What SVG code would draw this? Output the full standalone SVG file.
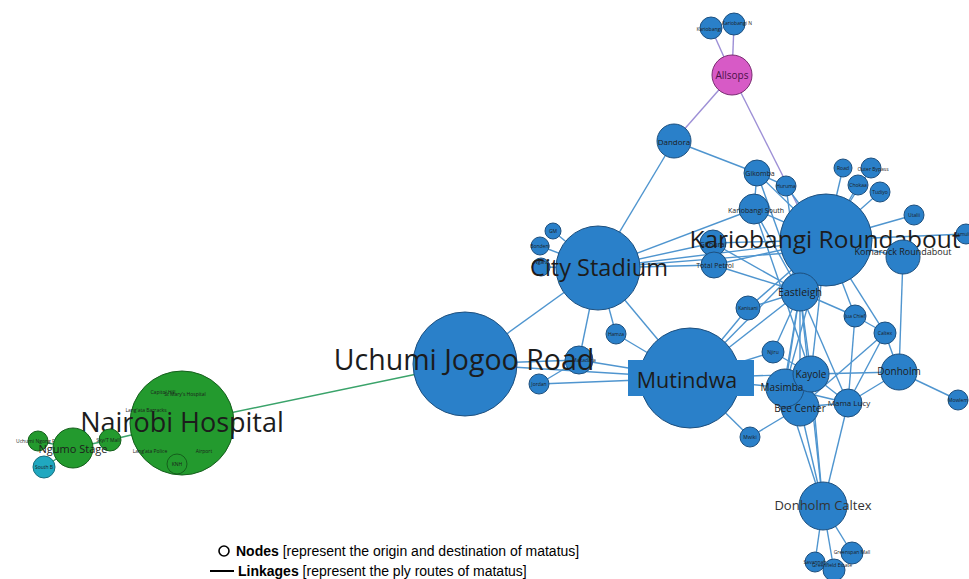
<svg xmlns="http://www.w3.org/2000/svg" width="969" height="579" viewBox="0 0 969 579">
<style>
  .e { stroke: #4f95cf; stroke-width: 1.4; fill: none; }
  .p { stroke: #9d8fd6; stroke-width: 1.4; fill: none; }
  .g { stroke: #3aa36a; stroke-width: 1.4; fill: none; }
  .n { fill: #2a80c9; stroke: #1d4f7e; stroke-width: 1; }
  .gr { fill: #239a2e; stroke: #155f1c; stroke-width: 1; }
  .tl { fill: #20a8c0; stroke: #176e7e; stroke-width: 1; }
  .mg { fill: #d75ac6; stroke: #7a2d72; stroke-width: 1; }
  text { font-family: "Open Sans", "DejaVu Sans", sans-serif; fill: #1c1c1c; text-anchor: middle; dominant-baseline: central; }
  .xs { font-size: 5px; }
  .s { font-size: 7px; }
  .m { font-size: 10px; }
  .l { font-size: 13px; }
  .xl { font-size: 23.5px; }
  .xxl { font-size: 27px; }
  .lg { font-family: "Liberation Sans", Arial, sans-serif; font-size: 14px; text-anchor: start; fill: #000; }
</style>
<rect width="969" height="579" fill="#ffffff"/>

<g id="connectors">
  <!-- Allsops links -->
  <line class="p" x1="732" y1="75" x2="711" y2="28"/>
  <line class="p" x1="732" y1="75" x2="734" y2="24"/>
  <line class="p" x1="732" y1="75" x2="674" y2="141"/>
  <line class="p" x1="732" y1="75" x2="800" y2="210"/>
  <!-- Dandora -->
  <line class="e" x1="674" y1="141" x2="598" y2="268"/>
  <line class="e" x1="674" y1="141" x2="757" y2="173"/>
  <!-- Gikomba / Huruma / Kariobangi South -->
  <line class="e" x1="757" y1="173" x2="786" y2="186"/>
  <line class="e" x1="757" y1="173" x2="826" y2="240"/>
  <line class="e" x1="757" y1="173" x2="800" y2="292"/>
  <line class="e" x1="757" y1="173" x2="754" y2="209"/>
  <line class="e" x1="786" y1="186" x2="826" y2="240"/>
  <line class="e" x1="786" y1="186" x2="800" y2="292"/>
  <line class="e" x1="754" y1="209" x2="598" y2="268"/>
  <line class="e" x1="754" y1="209" x2="826" y2="240"/>
  <line class="e" x1="754" y1="209" x2="800" y2="292"/>
  <line class="e" x1="754" y1="209" x2="811" y2="374"/>
  <!-- City Stadium -->
  <line class="e" x1="598" y1="268" x2="826" y2="240"/>
  <line class="e" x1="598" y1="268" x2="826" y2="250"/>
  <line class="e" x1="598" y1="268" x2="713" y2="243"/>
  <line class="e" x1="598" y1="268" x2="714" y2="265"/>
  <line class="e" x1="598" y1="268" x2="553" y2="231"/>
  <line class="e" x1="598" y1="268" x2="540" y2="246"/>
  <line class="e" x1="598" y1="268" x2="541" y2="267"/>
  <line class="e" x1="598" y1="268" x2="465" y2="364"/>
  <line class="e" x1="598" y1="268" x2="616" y2="334"/>
  <line class="e" x1="598" y1="268" x2="579" y2="360"/>
  <line class="e" x1="598" y1="268" x2="690" y2="378"/>
  <line class="e" x1="713" y1="243" x2="826" y2="240"/>
  <line class="e" x1="714" y1="265" x2="826" y2="240"/>
  <line class="e" x1="714" y1="265" x2="800" y2="292"/>
  <line class="e" x1="713" y1="243" x2="800" y2="292"/>
  <!-- Kariobangi Roundabout -->
  <line class="e" x1="826" y1="240" x2="843" y2="168"/>
  <line class="e" x1="826" y1="240" x2="871" y2="168"/>
  <line class="e" x1="826" y1="240" x2="858" y2="185"/>
  <line class="e" x1="826" y1="240" x2="880" y2="192"/>
  <line class="e" x1="826" y1="240" x2="914" y2="215"/>
  <line class="e" x1="826" y1="240" x2="903" y2="257"/>
  <line class="e" x1="826" y1="240" x2="965" y2="234"/>
  <line class="e" x1="826" y1="240" x2="800" y2="292"/>
  <line class="e" x1="826" y1="240" x2="855" y2="316"/>
  <line class="e" x1="826" y1="240" x2="885" y2="333"/>
  <line class="e" x1="826" y1="240" x2="690" y2="378"/>
  <line class="e" x1="826" y1="240" x2="811" y2="374"/>
  <line class="e" x1="826" y1="240" x2="785" y2="388"/>
  <line class="e" x1="826" y1="240" x2="748" y2="308"/>
  <line class="e" x1="903" y1="257" x2="899" y2="372"/>
  <!-- Eastleigh -->
  <line class="e" x1="800" y1="292" x2="748" y2="308"/>
  <line class="e" x1="800" y1="292" x2="690" y2="378"/>
  <line class="e" x1="800" y1="292" x2="773" y2="352"/>
  <line class="e" x1="800" y1="292" x2="811" y2="374"/>
  <line class="e" x1="800" y1="292" x2="785" y2="388"/>
  <line class="e" x1="800" y1="292" x2="800" y2="407"/>
  <line class="e" x1="800" y1="292" x2="855" y2="316"/>
  <line class="e" x1="800" y1="292" x2="848" y2="403"/>
  <line class="e" x1="800" y1="292" x2="823" y2="506"/>
  <line class="e" x1="800" y1="292" x2="780" y2="410"/>
  <!-- Mutindwa -->
  <line class="e" x1="690" y1="378" x2="465" y2="364"/>
  <line class="e" x1="690" y1="378" x2="579" y2="360"/>
  <line class="e" x1="690" y1="378" x2="539" y2="384"/>
  <line class="e" x1="690" y1="378" x2="616" y2="334"/>
  <line class="e" x1="690" y1="378" x2="748" y2="308"/>
  <line class="e" x1="690" y1="378" x2="773" y2="352"/>
  <line class="e" x1="690" y1="378" x2="811" y2="374"/>
  <line class="e" x1="690" y1="378" x2="785" y2="388"/>
  <line class="e" x1="690" y1="378" x2="750" y2="437"/>
  <line class="e" x1="579" y1="360" x2="539" y2="384"/>
  <line class="e" x1="465" y1="364" x2="579" y2="360"/>
  <!-- Kayole / Masimba / Bee Center cluster -->
  <line class="e" x1="811" y1="374" x2="899" y2="372"/>
  <line class="e" x1="811" y1="374" x2="848" y2="403"/>
  <line class="e" x1="811" y1="374" x2="800" y2="407"/>
  <line class="e" x1="785" y1="388" x2="848" y2="403"/>
  <line class="e" x1="800" y1="407" x2="848" y2="403"/>
  <line class="e" x1="750" y1="437" x2="800" y2="407"/>
  <line class="e" x1="773" y1="352" x2="811" y2="374"/>
  <line class="e" x1="855" y1="316" x2="848" y2="403"/>
  <line class="e" x1="855" y1="316" x2="885" y2="333"/>
  <line class="e" x1="885" y1="333" x2="899" y2="372"/>
  <line class="e" x1="885" y1="333" x2="848" y2="403"/>
  <line class="e" x1="885" y1="333" x2="800" y2="407"/>
  <line class="e" x1="899" y1="372" x2="848" y2="403"/>
  <line class="e" x1="899" y1="372" x2="958" y2="400"/>
  <line class="e" x1="785" y1="388" x2="823" y2="506"/>
  <line class="e" x1="800" y1="407" x2="823" y2="506"/>
  <line class="e" x1="811" y1="374" x2="823" y2="506"/>
  <line class="e" x1="848" y1="403" x2="823" y2="506"/>
  <!-- Donholm Caltex -->
  <line class="e" x1="823" y1="506" x2="815" y2="562"/>
  <line class="e" x1="823" y1="506" x2="834" y2="570"/>
  <line class="e" x1="823" y1="506" x2="852" y2="553"/>
  <!-- Nairobi Hospital -->
  <line class="g" x1="182" y1="423" x2="465" y2="364"/>
  <line class="g" x1="182" y1="423" x2="110" y2="440"/>
  <line class="g" x1="110" y1="440" x2="73" y2="448"/>
  <line class="g" x1="73" y1="448" x2="38" y2="441"/>
  <line class="g" x1="73" y1="448" x2="44" y2="467"/>
</g>

<!-- north -->
<g id="kariobangi"><circle class="n" cx="711" cy="28" r="11"/><text class="xs" x="709" y="29">Kariobangi</text></g>
<g id="kariobangi-n"><circle class="n" cx="734" cy="24" r="11"/><text class="xs" x="737" y="23">Kariobangi N</text></g>
<g id="allsops"><circle class="mg" cx="732" cy="75" r="20"/><text class="m" x="732" y="75" style="fill:#4a1248">Allsops</text></g>
<g id="dandora"><circle class="n" cx="674" cy="141" r="17"/><text class="s" x="674" y="141" style="font-size:8px">Dandora</text></g>
<g id="gikomba"><circle class="n" cx="757" cy="173" r="13"/><text class="s" x="760" y="173">Gikomba</text></g>
<g id="huruma"><circle class="n" cx="786" cy="186" r="10"/><text class="xs" x="786" y="186">Huruma</text></g>
<g id="kariobangi-south"><circle class="n" cx="754" cy="209" r="15"/><text class="s" x="756" y="210">Kariobangi South</text></g>

<!-- east -->
<g id="road"><circle class="n" cx="843" cy="168" r="9"/><text class="xs" x="843" y="168">Road</text></g>
<g id="outer-bypass"><circle class="n" cx="871" cy="168" r="10"/><text class="xs" x="873" y="169">Outer Bypass</text></g>
<g id="chokaa"><circle class="n" cx="858" cy="185" r="10"/><text class="xs" x="858" y="185">Chokaa</text></g>
<g id="tudiyo"><circle class="n" cx="880" cy="192" r="10"/><text class="xs" x="880" y="192">Tudiyo</text></g>
<g id="utalii"><circle class="n" cx="914" cy="215" r="10"/><text class="xs" x="914" y="215">Utalii</text></g>
<g id="kamulu"><circle class="n" cx="966" cy="234" r="10"/><text class="xs" x="963" y="234">Kamulu</text></g>

<!-- centre -->
<g id="gm"><circle class="n" cx="553" cy="231" r="8"/><text class="xs" x="553" y="231">GM</text></g>
<g id="bondeni"><circle class="n" cx="540" cy="246" r="9"/><text class="xs" x="540" y="246">Bondeni</text></g>
<g id="ngara"><circle class="n" cx="541" cy="267" r="9"/><text class="xs" x="541" y="262">Ngara</text></g>
<g id="githurai"><circle class="n" cx="713" cy="243" r="13"/><text class="s" x="713" y="244">Githurai</text></g>
<g id="total-petrol"><circle class="n" cx="714" cy="265" r="13"/><text class="s" x="715" y="265">Total Petrol</text></g>
<g id="hamza"><circle class="n" cx="616" cy="334" r="10"/><text class="xs" x="616" y="334">Hamza</text></g>
<g id="makadara"><circle class="n" cx="579" cy="360" r="14"/><text class="xs" x="584" y="360">Makadara</text></g>
<g id="jordan"><circle class="n" cx="539" cy="384" r="10"/><text class="xs" x="539" y="384">Jordan</text></g>

<g id="kariobangi-roundabout"><circle class="n" cx="826" cy="240" r="46"/><text class="xl" x="825" y="238" style="font-size:24.5px">Kariobangi Roundabout</text></g>
<g id="komarock"><circle class="n" cx="903" cy="257" r="17"/><text class="s" x="903" y="251" style="font-size:9px">Komarock Roundabout</text></g>
<g id="city-stadium"><circle class="n" cx="598" cy="268" r="42"/><text class="xl" x="599" y="267">City Stadium</text></g>
<g id="uchumi-jogoo"><circle class="n" cx="465" cy="364" r="52"/><text class="xxl" x="464" y="359" style="font-size:28.5px">Uchumi Jogoo Road</text></g>

<g id="eastleigh"><circle class="n" cx="800" cy="292" r="19"/><text class="m" x="800" y="292" style="font-size:10.5px">Eastleigh</text></g>
<g id="kanisani"><circle class="n" cx="748" cy="308" r="12"/><text class="xs" x="748" y="308">Kanisani</text></g>
<g id="jua-chief"><circle class="n" cx="855" cy="316" r="11"/><text class="xs" x="855" y="316">Jua Chief</text></g>
<g id="caltex"><circle class="n" cx="885" cy="333" r="11"/><text class="xs" x="885" y="333">Caltex</text></g>
<g id="donholm"><circle class="n" cx="899" cy="372" r="18"/><text class="m" x="899" y="371">Donholm</text></g>
<g id="mowlem"><circle class="n" cx="958" cy="400" r="10"/><text class="xs" x="958" y="400">Mowlem</text></g>
<g id="njiru"><circle class="n" cx="773" cy="352" r="11"/><text class="xs" x="773" y="352">Njiru</text></g>
<g id="mwiki"><circle class="n" cx="750" cy="437" r="10"/><text class="xs" x="750" y="437">Mwiki</text></g>
<g id="mutindwa"><circle class="n" cx="690" cy="378" r="50"/><rect x="628" y="360" width="126" height="36" fill="#2a80c9"/><text class="xl" x="687" y="379" style="font-size:21.5px">Mutindwa</text></g>

<!-- overlapping cluster: circles first, labels after -->
<g id="mama-lucy"><circle class="n" cx="848" cy="403" r="14"/></g>
<g id="bee-center"><circle class="n" cx="800" cy="407" r="19"/></g>
<g id="masimba"><circle class="n" cx="785" cy="388" r="19"/></g>
<g id="kayole"><circle class="n" cx="811" cy="374" r="18"/></g>
<g id="cluster-labels">
  <text class="m" x="782" y="387">Masimba</text>
  <text class="m" x="811" y="374">Kayole</text>
  <text class="m" x="800" y="408">Bee Center</text>
  <text class="s" x="849" y="402" style="font-size:8px">Mama Lucy</text>
</g>

<!-- south -->
<g id="donholm-caltex"><circle class="n" cx="823" cy="506" r="24"/><text class="l" x="823" y="505" style="fill:#333">Donholm Caltex</text></g>
<g id="savannah"><circle class="n" cx="815" cy="562" r="10"/><text class="xs" x="815" y="562">Savannah</text></g>
<g id="greenspan"><circle class="n" cx="852" cy="553" r="11"/><text class="xs" x="852" y="552">Greenspan Mall</text></g>
<g id="greenfield"><circle class="n" cx="834" cy="570" r="11"/><text class="xs" x="832" y="565">Greenfield Estate</text></g>

<!-- west -->
<g id="nairobi-hospital">
  <circle class="gr" cx="182" cy="423" r="52"/>
  <text class="xs" x="163" y="392">Capitol Hill</text>
  <text class="xs" x="185" y="394">St Mary's Hospital</text>
  <text class="xs" x="146" y="410">Lang'ata Barracks</text>
  <text class="xs" x="150" y="451">Lang'ata Police</text>
  <text class="xs" x="204" y="451">Airport</text>
  <circle cx="177" cy="464" r="10" fill="none" stroke="#155f1c" stroke-width="1"/>
  <text class="xs" x="177" y="464">KNH</text>
  <text class="xxl" x="182" y="421">Nairobi Hospital</text>
</g>
<g id="t-mall"><circle class="gr" cx="110" cy="440" r="11"/><text class="xs" x="108" y="440">Sky/T Mall</text></g>
<g id="uchumi-ngong"><circle class="gr" cx="38" cy="441" r="10"/><text class="xs" x="40" y="441">Uchumi Ngong Road</text></g>
<g id="south-b"><circle class="tl" cx="44" cy="467" r="11"/><text class="xs" x="44" y="467">South B</text></g>
<g id="ngumo-stage"><circle class="gr" cx="73" cy="448" r="20"/><text class="m" x="73" y="448" style="font-size:11px">Ngumo Stage</text></g>

<!-- key -->
<g id="legend">
  <circle cx="224" cy="551" r="5" fill="none" stroke="#000" stroke-width="1.6"/>
  <text class="lg" x="236" y="551"><tspan font-weight="bold">Nodes</tspan> [represent the origin and destination of matatus]</text>
  <line x1="210" y1="571" x2="234" y2="571" stroke="#000" stroke-width="2"/>
  <text class="lg" x="238" y="571"><tspan font-weight="bold">Linkages</tspan> [represent the ply routes of matatus]</text>
</g>
</svg>
